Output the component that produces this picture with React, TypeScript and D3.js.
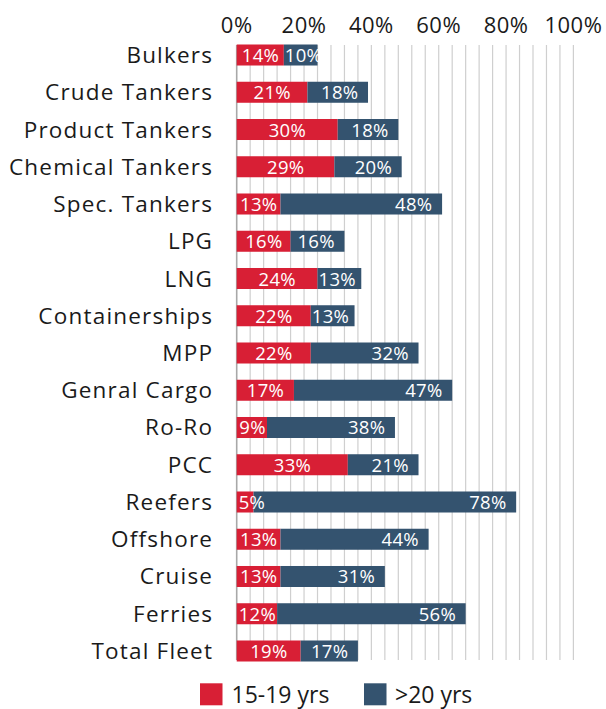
import React from 'react';
import * as d3 from 'd3';

const categories = [
  'Bulkers',
  'Crude Tankers',
  'Product Tankers',
  'Chemical Tankers',
  'Spec. Tankers',
  'LPG',
  'LNG',
  'Containerships',
  'MPP',
  'Genral Cargo',
  'Ro-Ro',
  'PCC',
  'Reefers',
  'Offshore',
  'Cruise',
  'Ferries',
  'Total Fleet'
];
const age15to19 = [14, 21, 30, 29, 13, 16, 24, 22, 22, 17, 9, 33, 5, 13, 13, 12, 19];
const age20plus = [10, 18, 18, 20, 48, 16, 13, 13, 32, 47, 38, 21, 78, 44, 31, 56, 17];
const seriesNames = ['15-19 yrs', '>20 yrs'];
const tickValues = [0, 20, 40, 60, 80, 100];

const WIDTH = 606;
const HEIGHT = 709;
const FONT = '"Open Sans", sans-serif';
const RED = '#D81F35';
const BLUE = '#34536F';
const TEXT = '#1a1a1a';

const x0 = 236.7;
const x1 = 573.4;

export default function App() {
  const xScale = d3.scaleLinear().domain([0, 100]).range([x0, x1]);
  const yScale = d3
    .scaleBand<string>()
    .domain(categories)
    .range([44.5, 661.5])
    .paddingInner(0.436)
    .paddingOuter(0);

  const bh = yScale.bandwidth();
  const grid = d3.range(0, 101, 4);

  // rough text width for label clamping
  const labelW = (s: string) => (s.length === 2 ? 25 : 37);

  return (
    <svg
      width={WIDTH}
      height={HEIGHT}
      style={{ position: 'absolute', left: 0, top: 0, background: '#fff' }}
      fontFamily={FONT}
    >
      {/* grid */}
      <g className="grid">
        {grid.map(d => (
          <line
            key={d}
            x1={xScale(d)}
            x2={xScale(d)}
            y1={45}
            y2={660}
            stroke={d === 0 ? '#a8a8a8' : '#cfcfcf'}
            strokeWidth={d === 0 ? 1.6 : 1.2}
          />
        ))}
      </g>

      {/* x axis labels (top) */}
      <g className="x-axis">
        {tickValues.map(d => (
          <text
            key={d}
            x={xScale(d)}
            y={33}
            fontSize={22}
            letterSpacing={0.5}
            fill={TEXT}
            textAnchor="middle"
          >
            {d}%
          </text>
        ))}
      </g>

      {/* category labels */}
      <g className="y-axis">
        {categories.map(c => (
          <text
            key={c}
            x={213.2}
            y={(yScale(c) || 0) + bh / 2 + 8}
            fontSize={22.5}
            letterSpacing={1.2}
            fill={TEXT}
            textAnchor="end"
          >
            {c}
          </text>
        ))}
      </g>

      {/* bars */}
      <g className="bars">
        {categories.map((c, i) => {
          const y = yScale(c) || 0;
          const a = age15to19[i];
          const b = age20plus[i];
          const xa0 = xScale(0);
          const xa1 = xScale(a);
          const xb1 = xScale(a + b);
          const la = `${a}%`;
          const lb = `${b}%`;
          const wa = labelW(la);
          const wb = labelW(lb);
          // red label centred, blue label right aligned; both kept inside segment start
          const laStart = Math.max((xa0 + xa1) / 2 - wa / 2, xa0 + 2);
          const lbStart = Math.max(xb1 - 10 - wb, xa1 + 1);
          const ty = y + bh / 2 + 7;
          return (
            <g key={c}>
              <rect x={xa0} y={y} width={xa1 - xa0} height={bh} fill={RED} />
              <rect x={xa1} y={y} width={xb1 - xa1} height={bh} fill={BLUE} />
              <text x={laStart} y={ty} fontSize={18.5} letterSpacing={0.3} fill="#fff">
                {la}
              </text>
              <text x={lbStart} y={ty} fontSize={18.5} letterSpacing={0.3} fill="#fff">
                {lb}
              </text>
            </g>
          );
        })}
      </g>

      {/* legend */}
      <g className="legend">
        <rect x={200} y={683.3} width={22.5} height={22} fill={RED} />
        <text x={231.5} y={703} fontSize={23} fill={TEXT}>
          {seriesNames[0]}
        </text>
        <rect x={364} y={683.3} width={22.5} height={22} fill={BLUE} />
        <text x={395} y={703} fontSize={23} fill={TEXT}>
          {seriesNames[1]}
        </text>
      </g>
    </svg>
  );
}
